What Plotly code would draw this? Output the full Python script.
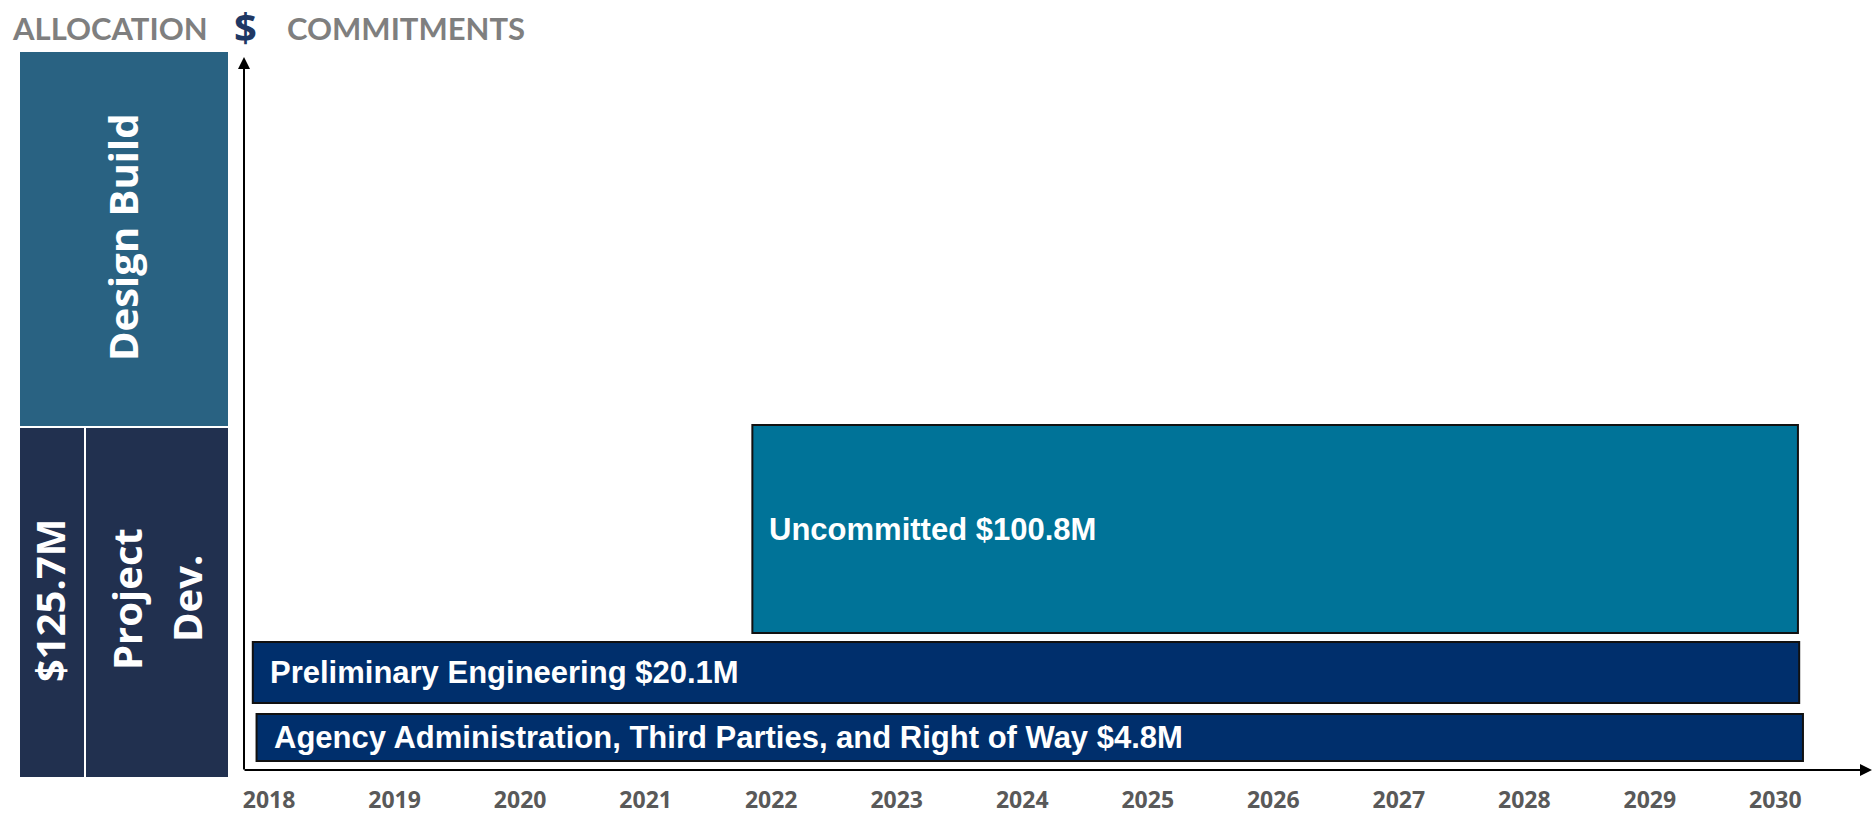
import plotly.graph_objects as go

# ---------------- data ----------------
years = list(range(2018, 2031))
year_labels = [str(y) for y in years]

bar_names = ["Agency Administration, Third Parties, and Right of Way", "Preliminary Engineering", "Uncommitted"]
bar_amounts = [4.8, 20.1, 100.8]          # $M
bar_start = [2017.90, 2017.87, 2021.85]   # year
bar_end = [2030.22, 2030.19, 2030.18]     # year

alloc_total = 125.7                        # $M
alloc_names = ["Project Dev.", "Design Build"]

# ---------------- layout helpers (styles / positions) ----------------
W, H = 1874, 816
def px(x):
    return x / W
def py(y):
    return (H - y) / H

lane_bottom = [9, 67, 137]      # vertical lanes of the commitment bars (px above axis)
lane_height = [47, 61, 208]
bar_colors = ["#002f6c", "#002f6c", "#007398"]
label_fonts = [
    dict(family="Liberation Sans, Arial, sans-serif", size=31, color="white", weight="bold"),
    dict(family="Liberation Sans, Arial, sans-serif", size=31, color="white", weight="bold"),
    dict(family="Liberation Sans, Arial, sans-serif", size=31, color="white", weight="bold"),
]

fig = go.Figure()

# commitment bars
for i in range(len(bar_names)):
    fig.add_trace(go.Bar(
        orientation="h",
        y=[lane_bottom[i] + lane_height[i] / 2],
        x=[bar_end[i] - bar_start[i]],
        base=[bar_start[i]],
        width=[lane_height[i]],
        marker=dict(color=bar_colors[i], line=dict(color="#111111", width=2)),
        hoverinfo="skip", showlegend=False,
    ))
    fig.add_annotation(
        x=bar_start[i], y=lane_bottom[i] + lane_height[i] / 2, xref="x", yref="y",
        text=f"{bar_names[i]} ${bar_amounts[i]}M", showarrow=False,
        xanchor="left", yanchor="middle", xshift=15, font=label_fonts[i],
    )

# allocation column (left panel)
alloc_cells = [
    # (x center, width, base, height, color)
    (32, 64, 0, 349, "#21304f"),
    (137, 142, 0, 349, "#21304f"),
    (104, 208, 351, 374, "#296282"),
]
for cx, w, b, h, c in alloc_cells:
    fig.add_trace(go.Bar(
        x=[cx], y=[h], base=[b], width=[w], xaxis="x2", yaxis="y2",
        marker=dict(color=c, line=dict(width=0)), hoverinfo="skip", showlegend=False,
    ))

vfont = dict(family="Open Sans, sans-serif", size=40, color="white", weight="bold")
fig.add_annotation(x=102, y=540, xref="x2", yref="y2", text=alloc_names[1], textangle=-90,
                   showarrow=False, font=vfont)
fig.add_annotation(x=29, y=176, xref="x2", yref="y2", text=f"${alloc_total}M", textangle=-90,
                   showarrow=False, font=vfont)
pd_words = alloc_names[0].split(" ")
fig.add_annotation(x=106, y=178, xref="x2", yref="y2", text=pd_words[0], textangle=-90,
                   showarrow=False, font=vfont)
fig.add_annotation(x=166, y=178, xref="x2", yref="y2", text=pd_words[1], textangle=-90,
                   showarrow=False, font=vfont)

# header texts
hfont = dict(family="Lato, sans-serif", size=31, color="#7f7f7f", weight="bold")
fig.add_annotation(x=px(10), y=py(28), xref="paper", yref="paper", text="ALLOCATION",
                   showarrow=False, xanchor="left", yanchor="middle", font=hfont)
fig.add_annotation(x=px(285), y=py(28), xref="paper", yref="paper", text="COMMITMENTS",
                   showarrow=False, xanchor="left", yanchor="middle", font=hfont)
fig.add_annotation(x=px(245), y=py(26), xref="paper", yref="paper", text="$",
                   showarrow=False, xanchor="center", yanchor="middle",
                   font=dict(family="Open Sans, sans-serif", size=40, color="#1f3864", weight="bold"))

# axis arrows
fig.add_annotation(x=px(244), y=py(57), xref="paper", yref="paper", ax=0, ay=714,
                   axref="pixel", ayref="pixel", text="", showarrow=True,
                   arrowhead=2, arrowsize=1.2, arrowwidth=2, arrowcolor="black", standoff=0)
fig.add_annotation(x=px(1872), y=py(770), xref="paper", yref="paper", ax=-1629, ay=0,
                   axref="pixel", ayref="pixel", text="", showarrow=True,
                   arrowhead=2, arrowsize=1.2, arrowwidth=2, arrowcolor="black", standoff=0)

fig.update_layout(
    width=W, height=H,
    margin=dict(l=0, r=0, t=0, b=0),
    paper_bgcolor="white", plot_bgcolor="white",
    barmode="overlay",
    xaxis=dict(domain=[px(244), px(1872)], range=[2017.80, 2030.77],
               tickmode="array", tickvals=years, ticktext=year_labels,
               showgrid=False, zeroline=False, showline=False,
               ticks="outside", ticklen=9, tickcolor="rgba(0,0,0,0)",
               tickfont=dict(family="Open Sans, sans-serif", size=23, color="#595959", weight="bold")),
    yaxis=dict(domain=[py(770), py(57)], range=[0, 713], visible=False),
    xaxis2=dict(domain=[px(20), px(228)], range=[0, 208], visible=False, anchor="y2"),
    yaxis2=dict(domain=[py(777), py(52)], range=[0, 725], visible=False, anchor="x2"),
)

fig.write_html("out.html", config={"displayModeBar": False},
               post_script="document.body.style.margin='0px';")
